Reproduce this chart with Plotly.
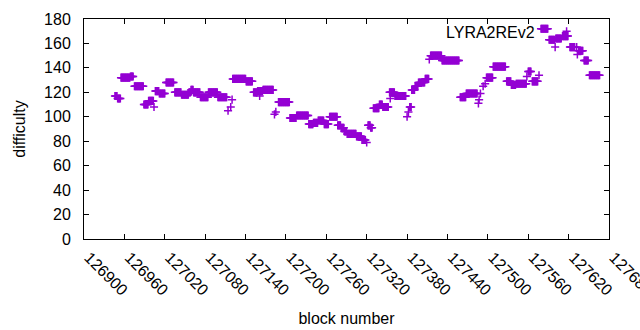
import plotly.graph_objects as go

# Runs of consecutive blocks sharing one difficulty value
run_start = [126946,126950,126955,126969,126975,126989,126996,127004,127006,127012,
             127022,127035,127045,127056,127059,127063,127073,127085,127099,127114,
             127118,127120,127121,127141,127152,127158,127161,127166,127183,127185,
             127189,127206,127216,127234,127241,127248,127257,127265,127277,127282,
             127287,127291,127305,127313,127320,127322,127326,127330,127339,127344,
             127354,127355,127362,127380,127382,127384,127387,127392,127397,127407,
             127413,127415,127432,127459,127468,127486,127487,127489,127493,127496,
             127498,127508,127528,127535,127542,127558,127560,127566,127576,127579,
             127591,127600,127601,127611,127617,127622,127632,127633,127635,127643,
             127651]
run_end = [126949,126954,126968,126973,126988,126995,127003,127004,127011,127020,
           127033,127044,127055,127058,127062,127072,127084,127098,127112,127114,
           127118,127120,127140,127150,127157,127165,127161,127181,127183,127185,
           127205,127215,127233,127240,127247,127256,127263,127276,127281,127286,
           127290,127304,127312,127318,127320,127325,127328,127338,127343,127352,
           127361,127355,127378,127380,127382,127386,127391,127396,127406,127412,
           127413,127431,127457,127467,127484,127486,127487,127489,127493,127496,
           127507,127526,127534,127541,127557,127558,127564,127574,127576,127589,
           127599,127600,127609,127619,127617,127629,127632,127633,127641,127649,
           127666]
run_diff = [117,115,132,133,125,110,113,108,121,119,
            128,120,118,120,122,120,116,120,116,105,
            108,114,131,129,120,121,117,122,102,104,
            112,99,101,94,95,97,94,100,93,91,
            88,86,84,81,79,93,91,107,110,108,
            120,115,117,100,104,108,122,125,128,131,
            147,150,146,116,119,111,114,119,125,127,
            132,141,129,126,127,133,137,129,134,172,
            163,157,164,166,170,157,157,151,154,146,
            134]

x_ticks = list(range(126900, 127681, 60))
y_ticks = list(range(0, 181, 20))

blocks, diffs = [], []
for s, e, d in zip(run_start, run_end, run_diff):
    for b in range(s, e + 1):
        blocks.append(b)
        diffs.append(d)

color = "#9400D3"
font = "Liberation Sans, Arial, sans-serif"

fig = go.Figure()
fig.add_trace(go.Scatter(
    x=blocks, y=diffs, mode="markers",
    marker=dict(symbol="cross-thin", size=5.8, color=color,
                line=dict(color=color, width=1.5)),
    showlegend=False, hoverinfo="skip", cliponaxis=False))

fig.add_annotation(text="LYRA2REv2", xref="paper", yref="paper",
                   x=0.862, y=0.94, xanchor="right", yanchor="middle",
                   showarrow=False, font=dict(family=font, size=16, color="black"))

axis_common = dict(showgrid=False, zeroline=False, showline=True, linecolor="black",
                   linewidth=1, mirror="allticks", ticks="inside", ticklen=5,
                   tickcolor="black", automargin=False, ticklabeloverflow="allow",
                   tickfont=dict(family=font, size=16, color="black"))

fig.update_xaxes(range=[126900, 127680], tickvals=x_ticks,
                 ticktext=[str(t) for t in x_ticks], tickangle=45,
                 ticklabelshift=5, ticklabelstandoff=2,
                 title=dict(text="block number", font=dict(family=font, size=16, color="black"),
                            standoff=14),
                 **axis_common)
fig.update_yaxes(range=[0, 180], tickvals=y_ticks,
                 title=dict(text="difficulty", font=dict(family=font, size=16, color="black"),
                            standoff=14),
                 ticklabelstandoff=9,
                 **axis_common)

fig.update_layout(width=640, height=330, margin=dict(l=84, r=31, t=19, b=91),
                  plot_bgcolor="white", paper_bgcolor="white",
                  font=dict(family=font, size=16, color="black"))

fig.write_html("out.html", config={"displayModeBar": False},
               post_script="document.body.style.margin='0';document.body.style.overflow='hidden';")
